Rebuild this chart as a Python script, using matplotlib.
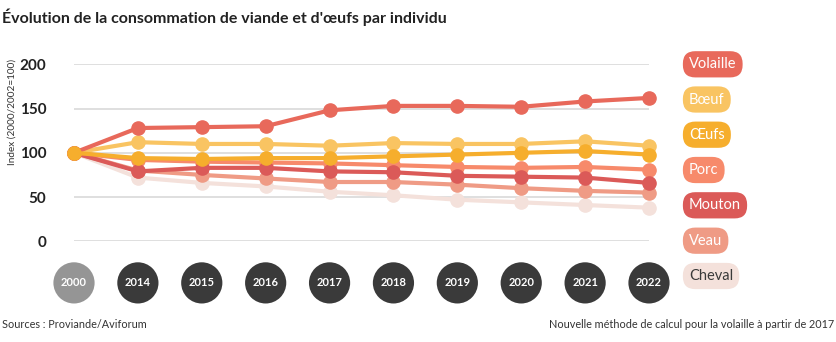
import matplotlib.pyplot as plt
import numpy as np

plt.rcParams['font.family'] = ['Lato', 'DejaVu Sans']

years = ['2000', '2014', '2015', '2016', '2017', '2018', '2019', '2020', '2021', '2022']

volaille = [100, 128, 129, 130, 148, 153, 153, 152, 158, 162]
boeuf = [100, 112, 110, 110, 108, 111, 110, 110, 113, 108]
oeufs = [100, 94, 93, 94, 94, 96, 98, 100, 102, 98]
porc = [100, 92, 90, 89, 88, 86, 84, 83, 84, 81]
mouton = [100, 79, 83, 83, 79, 78, 74, 73, 72, 66]
veau = [100, 80, 75, 71, 67, 67, 64, 60, 57, 55]
cheval = [100, 72, 66, 62, 56, 52, 47, 44, 41, 38]

series = [
    ('Volaille', volaille, '#e8695b', 'white'),
    ('Bœuf', boeuf, '#f9c462', 'white'),
    ('Œufs', oeufs, '#f6ae2d', 'white'),
    ('Porc', porc, '#f78a6b', 'white'),
    ('Mouton', mouton, '#db5a58', 'white'),
    ('Veau', veau, '#ef9b85', 'white'),
    ('Cheval', cheval, '#f4e1db', '#3a3a3a'),
]

W, H = 836, 342
fig = plt.figure(figsize=(W / 100, H / 100), dpi=100)

# main axes, placed in pixels
left, right, top, bottom = 74, 649, 64.3, 241.3
ax = fig.add_axes([left / W, 1 - bottom / H, (right - left) / W, (bottom - top) / H])
ax.set_xlim(0, 9)
ax.set_ylim(0, 200)
for s in ax.spines.values():
    s.set_visible(False)
ax.set_yticks([0, 50, 100, 150, 200])
ax.tick_params(axis='y', length=0, pad=20, labelsize=11, labelcolor='#222222')
ax.set_xticks([])
for lab in ax.get_yticklabels():
    lab.set_fontweight('bold')
ax.grid(axis='y', color='#d9d9d9', linewidth=1.2)
ax.set_axisbelow(True)

x = np.arange(len(years))
draw_order = ['Cheval', 'Veau', 'Porc', 'Mouton', 'Bœuf', 'Volaille', 'Œufs']
lookup = {name: (vals, col) for name, vals, col, _ in series}
for i, name in enumerate(draw_order):
    vals, col = lookup[name]
    ax.plot(x, vals, color=col, linewidth=3, marker='o', markersize=9.5,
            clip_on=False, zorder=3 + i, solid_capstyle='round')

# year bubbles below the plot
yb = -47
cols = ['#959595'] + ['#3a3a3a'] * (len(years) - 1)
ax.scatter(x, [yb] * len(years), s=880, c=cols, clip_on=False, zorder=2, linewidths=0)
for xi, yr in zip(x, years):
    ax.text(xi, yb, yr, ha='center', va='center', color='white', fontsize=8,
            fontweight='bold', clip_on=False)

# legend pills
pill_y = [64.3, 99.5, 134.7, 170, 205.3, 240.7, 276]
for (name, vals, col, tcol), py in zip(series, pill_y):
    fig.text(689 / W, 1 - py / H, name, ha='left', va='center', fontsize=10.5,
             color=tcol,
             bbox=dict(boxstyle='round,pad=0.42,rounding_size=0.85', fc=col, ec='none'))

fig.text(2 / W, 1 - 17 / H, "Évolution de la consommation de viande et d'œufs par individu",
         fontsize=11.5, fontweight='bold', color='#222222', va='center')
fig.text(12 / W, 1 - 112 / H, 'Index (2000/2002=100)', rotation=90, fontsize=7.2,
         color='#333333', ha='center', va='center')
fig.text(2 / W, 1 - 325 / H, 'Sources : Proviande/Aviforum', fontsize=7.8,
         color='#333333', va='center')
fig.text(834 / W, 1 - 325 / H, 'Nouvelle méthode de calcul pour la volaille à partir de 2017',
         fontsize=7.8, color='#333333', va='center', ha='right')

fig.savefig('out.png', dpi=100)
